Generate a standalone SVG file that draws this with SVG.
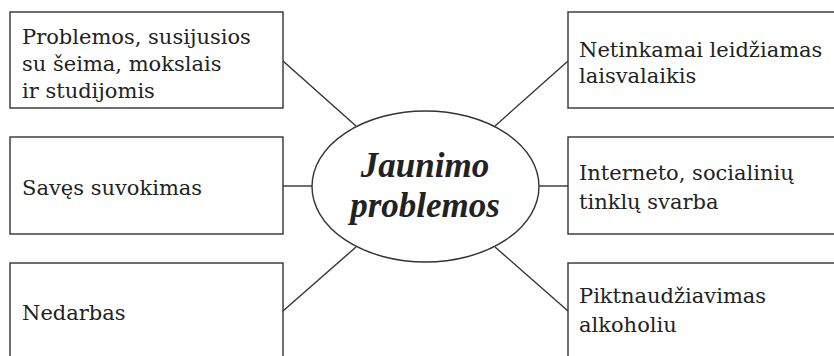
<svg xmlns="http://www.w3.org/2000/svg" width="834" height="356" viewBox="0 0 834 356">
<style>
.box{fill:#fff;stroke:#333;stroke-width:1.4}
.t{font-family:'DejaVu Serif', serif;font-size:21px;fill:#222}
.c{font-family:'Liberation Serif', serif;font-size:35px;font-weight:bold;font-style:italic;fill:#222;text-anchor:middle}
.ln{stroke:#333;stroke-width:1.4;fill:none}
</style>
<rect width="834" height="356" fill="#fff"/>
<g id="connectors">
<line class="ln" x1="283" y1="61" x2="356" y2="126"/>
<line class="ln" x1="568" y1="61" x2="495" y2="126"/>
<line class="ln" x1="283" y1="186" x2="312" y2="186"/>
<line class="ln" x1="539" y1="186" x2="568" y2="186"/>
<line class="ln" x1="283" y1="311" x2="356" y2="247"/>
<line class="ln" x1="568" y1="311" x2="495" y2="247"/>
</g>
<g id="center">
<ellipse class="box" cx="425.5" cy="186.5" rx="113.5" ry="75.5"/>
<text class="c" x="425" y="177">Jaunimo</text>
<text class="c" x="425" y="217">problemos</text>
</g>
<g id="n1">
<rect class="box" x="10" y="12" width="273" height="96"/>
<text class="t" x="22" y="44">Problemos, susijusios</text>
<text class="t" x="22" y="71">su šeima, mokslais</text>
<text class="t" x="22" y="98">ir studijomis</text>
</g>
<g id="n2">
<rect class="box" x="10" y="137" width="273" height="97"/>
<text class="t" x="22" y="195">Savęs suvokimas</text>
</g>
<g id="n3">
<rect class="box" x="10" y="263" width="273" height="110"/>
<text class="t" x="22" y="320">Nedarbas</text>
</g>
<g id="n4">
<rect class="box" x="568" y="12" width="280" height="96"/>
<text class="t" x="579" y="57">Netinkamai leidžiamas</text>
<text class="t" x="579" y="83">laisvalaikis</text>
</g>
<g id="n5">
<rect class="box" x="568" y="137" width="280" height="97"/>
<text class="t" x="579" y="180">Interneto, socialinių</text>
<text class="t" x="579" y="209">tinklų svarba</text>
</g>
<g id="n6">
<rect class="box" x="568" y="263" width="280" height="110"/>
<text class="t" x="579" y="303">Piktnaudžiavimas</text>
<text class="t" x="579" y="332">alkoholiu</text>
</g>
</svg>
